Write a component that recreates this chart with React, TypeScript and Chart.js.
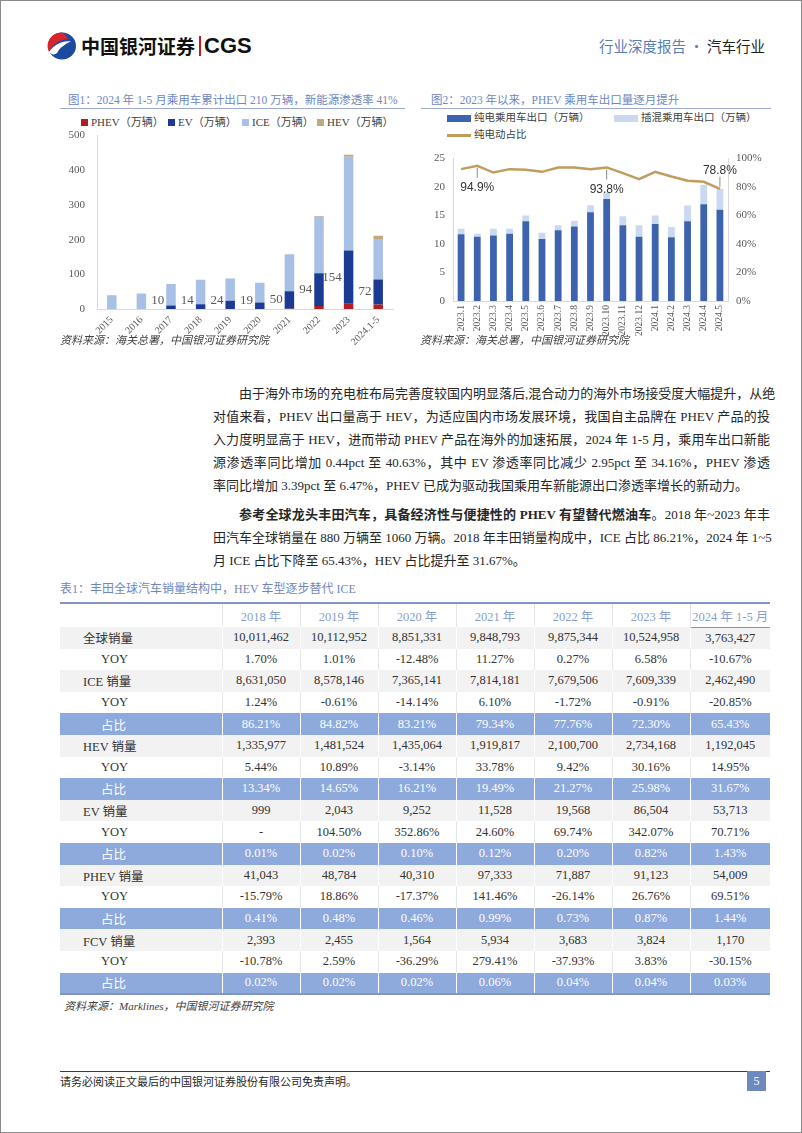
import React, { useEffect, useRef } from 'react';
import { Chart, registerables } from 'chart.js';
Chart.register(...registerables);

const SERIF = '"Liberation Serif", "Noto Sans CJK SC", serif';
const SANS = '"Liberation Sans", "Noto Sans CJK SC", sans-serif';
const CJK = '"Liberation Serif", "Noto Sans CJK SC", sans-serif';

// ---- Chart 1 data (万辆) ----
const years = ['2015', '2016', '2017', '2018', '2019', '2020', '2021', '2022', '2023', '2024.1-5'];
const phevValues = [0, 0, 0, 0, 0, 0, 1, 9, 15, 13];
const evValues = [0, 0, 10, 14, 24, 19, 50, 94, 154, 72];
const iceValues = [40, 45, 62, 70, 64, 57, 107, 163, 270, 117];
const hevValues = [0, 0, 0, 0, 0, 0, 0, 2, 6, 9];
const chart1Ticks = [0, 100, 200, 300, 400, 500];

// ---- Chart 2 data ----
const months = ['2023.1', '2023.2', '2023.3', '2023.4', '2023.5', '2023.6', '2023.7', '2023.8', '2023.9', '2023.10', '2023.11', '2023.12', '2024.1', '2024.2', '2024.3', '2024.4', '2024.5'];
const bevExport = [11.7, 11.3, 11.5, 11.8, 14.0, 10.9, 12.4, 13.1, 15.6, 17.9, 13.3, 11.3, 13.5, 11.2, 14.0, 17.0, 16.0];
const phevExport = [1.0, 0.5, 1.2, 0.9, 1.0, 1.1, 0.9, 1.0, 1.2, 1.1, 1.6, 2.0, 1.5, 1.8, 2.75, 3.4, 3.7];
const bevShare = [92.6, 94.9, 90.2, 92.6, 92.1, 90.7, 93.7, 93.7, 92.6, 93.8, 89.8, 85.6, 90.7, 87.4, 84.4, 83.7, 78.8];
const shareLabelIdx = [1, 9, 16];
const shareLabelBelow = [true, true, false];

// ---- Table data ----
const tableYears = ['2018 年', '2019 年', '2020 年', '2021 年', '2022 年', '2023 年', '2024 年 1-5 月'];
const globalSales = ['10,011,462', '10,112,952', '8,851,331', '9,848,793', '9,875,344', '10,524,958', '3,763,427'];
const globalYoy = ['1.70%', '1.01%', '-12.48%', '11.27%', '0.27%', '6.58%', '-10.67%'];
const iceSales = ['8,631,050', '8,578,146', '7,365,141', '7,814,181', '7,679,506', '7,609,339', '2,462,490'];
const iceYoy = ['1.24%', '-0.61%', '-14.14%', '6.10%', '-1.72%', '-0.91%', '-20.85%'];
const iceShare = ['86.21%', '84.82%', '83.21%', '79.34%', '77.76%', '72.30%', '65.43%'];
const hevSales = ['1,335,977', '1,481,524', '1,435,064', '1,919,817', '2,100,700', '2,734,168', '1,192,045'];
const hevYoy = ['5.44%', '10.89%', '-3.14%', '33.78%', '9.42%', '30.16%', '14.95%'];
const hevShare = ['13.34%', '14.65%', '16.21%', '19.49%', '21.27%', '25.98%', '31.67%'];
const evSales = ['999', '2,043', '9,252', '11,528', '19,568', '86,504', '53,713'];
const evYoy = ['-', '104.50%', '352.86%', '24.60%', '69.74%', '342.07%', '70.71%'];
const evShare = ['0.01%', '0.02%', '0.10%', '0.12%', '0.20%', '0.82%', '1.43%'];
const phevSales = ['41,043', '48,784', '40,310', '97,333', '71,887', '91,123', '54,009'];
const phevYoy = ['-15.79%', '18.86%', '-17.37%', '141.46%', '-26.14%', '26.76%', '69.51%'];
const phevShare = ['0.41%', '0.48%', '0.46%', '0.99%', '0.73%', '0.87%', '1.44%'];
const fcvSales = ['2,393', '2,455', '1,564', '5,934', '3,683', '3,824', '1,170'];
const fcvYoy = ['-10.78%', '2.59%', '-36.29%', '279.41%', '-37.93%', '3.83%', '-30.15%'];
const fcvShare = ['0.02%', '0.02%', '0.02%', '0.06%', '0.04%', '0.04%', '0.03%'];

const tableRows: { label: string; kind: 'sales' | 'yoy' | 'share'; values: string[] }[] = [
  { label: '全球销量', kind: 'sales', values: globalSales },
  { label: 'YOY', kind: 'yoy', values: globalYoy },
  { label: 'ICE 销量', kind: 'sales', values: iceSales },
  { label: 'YOY', kind: 'yoy', values: iceYoy },
  { label: '占比', kind: 'share', values: iceShare },
  { label: 'HEV 销量', kind: 'sales', values: hevSales },
  { label: 'YOY', kind: 'yoy', values: hevYoy },
  { label: '占比', kind: 'share', values: hevShare },
  { label: 'EV 销量', kind: 'sales', values: evSales },
  { label: 'YOY', kind: 'yoy', values: evYoy },
  { label: '占比', kind: 'share', values: evShare },
  { label: 'PHEV 销量', kind: 'sales', values: phevSales },
  { label: 'YOY', kind: 'yoy', values: phevYoy },
  { label: '占比', kind: 'share', values: phevShare },
  { label: 'FCV 销量', kind: 'sales', values: fcvSales },
  { label: 'YOY', kind: 'yoy', values: fcvYoy },
  { label: '占比', kind: 'share', values: fcvShare },
];

const COLORS1 = { phev: '#B01E23', ev: '#1B3A94', ice: '#A8BFE6', hev: '#C3A87E' };
const COLORS2 = { bev: '#3D63AF', phev: '#CAD8F0', line: '#C19C5C' };
const TITLE_COLOR = '#6F87BD';

function ExportChart() {
  const ref = useRef<HTMLCanvasElement>(null);
  useEffect(() => {
    const evLabelPlugin = {
      id: 'evLabels',
      afterDatasetsDraw(chart: any) {
        const { ctx } = chart;
        const meta = chart.getDatasetMeta(1);
        const ys = chart.scales.y;
        ctx.save();
        ctx.font = `13px ${SERIF}`;
        ctx.fillStyle = '#595959';
        ctx.textAlign = 'right';
        ctx.textBaseline = 'middle';
        meta.data.forEach((bar: any, i: number) => {
          const v = evValues[i];
          if (v < 5) return;
          const mid = ys.getPixelForValue(phevValues[i] + v / 2);
          const yy = Math.min(mid, ys.getPixelForValue(0) - 8);
          ctx.fillText(String(v), bar.x - bar.width / 2 - 2, yy);
        });
        ctx.restore();
      },
    };
    const common = { barPercentage: 0.32, categoryPercentage: 1 };
    const chart = new Chart(ref.current as HTMLCanvasElement, {
      type: 'bar',
      data: {
        labels: years,
        datasets: [
          { label: 'PHEV（万辆）', data: phevValues, backgroundColor: COLORS1.phev, ...common },
          { label: 'EV（万辆）', data: evValues, backgroundColor: COLORS1.ev, ...common },
          { label: 'ICE（万辆）', data: iceValues, backgroundColor: COLORS1.ice, ...common },
          { label: 'HEV（万辆）', data: hevValues, backgroundColor: COLORS1.hev, ...common },
        ],
      },
      options: {
        animation: false,
        responsive: false,
        maintainAspectRatio: false,
        layout: { padding: { top: 0, right: 17, left: 0, bottom: 0 } },
        plugins: { legend: { display: false }, tooltip: { enabled: false } },
        scales: {
          x: {
            stacked: true,
            grid: { display: false, drawTicks: false },
            border: { color: '#D9D9D9' },
            ticks: { font: { family: SERIF, size: 10 }, color: '#595959', minRotation: 45, maxRotation: 45, autoSkip: false, padding: 5 },
            afterFit: (s: any) => { s.height = 43; },
          },
          y: {
            stacked: true,
            min: chart1Ticks[0],
            max: chart1Ticks[chart1Ticks.length - 1],
            ticks: { stepSize: 100, font: { family: SERIF, size: 11 }, color: '#595959', padding: 12 },
            grid: { display: false, drawTicks: false },
            border: { color: '#D9D9D9' },
            afterFit: (s: any) => { s.width = 37; },
          },
        },
      } as any,
      plugins: [evLabelPlugin],
    });
    return () => chart.destroy();
  }, []);
  return <canvas ref={ref} width={350} height={235} style={{ position: 'absolute', left: 60, top: 117, width: 350, height: 235 }} />;
}

function MonthlyChart() {
  const ref = useRef<HTMLCanvasElement>(null);
  useEffect(() => {
    const shareLabelPlugin = {
      id: 'shareLabels',
      afterDatasetsDraw(chart: any) {
        const meta = chart.getDatasetMeta(2);
        const ctx = chart.ctx;
        ctx.save();
        ctx.font = `12px ${SANS}`;
        ctx.fillStyle = '#333333';
        ctx.strokeStyle = '#8C8C8C';
        ctx.lineWidth = 1;
        ctx.textAlign = 'center';
        ctx.textBaseline = 'middle';
        shareLabelIdx.forEach((i, k) => {
          const pt = meta.data[i];
          const below = shareLabelBelow[k];
          const dir = below ? 1 : -1;
          ctx.beginPath();
          ctx.moveTo(pt.x, pt.y + dir * 2);
          ctx.lineTo(pt.x, pt.y + dir * 12);
          ctx.stroke();
          ctx.fillText(bevShare[i].toFixed(1) + '%', pt.x, pt.y + dir * (below ? 22 : 18));
        });
        ctx.restore();
      },
    };
    const barOpts = { barPercentage: 0.42, categoryPercentage: 1, stack: 's' };
    const chart = new Chart(ref.current as HTMLCanvasElement, {
      type: 'bar',
      data: {
        labels: months,
        datasets: [
          { type: 'bar', label: '纯电乘用车出口（万辆）', data: bevExport, backgroundColor: COLORS2.bev, yAxisID: 'y', order: 2, ...barOpts },
          { type: 'bar', label: '插混乘用车出口（万辆）', data: phevExport, backgroundColor: COLORS2.phev, yAxisID: 'y', order: 2, ...barOpts },
          { type: 'line', label: '纯电动占比', data: bevShare, borderColor: COLORS2.line, borderWidth: 2.5, pointRadius: 0, tension: 0, yAxisID: 'y1', order: 0 },
        ],
      },
      options: {
        animation: false,
        responsive: false,
        maintainAspectRatio: false,
        layout: { padding: { top: 0, right: 0, left: 0, bottom: 0 } },
        plugins: { legend: { display: false }, tooltip: { enabled: false } },
        scales: {
          x: {
            stacked: true,
            grid: { display: false, drawTicks: false },
            border: { color: '#D9D9D9' },
            ticks: { font: { family: SERIF, size: 9.5 }, color: '#595959', minRotation: 90, maxRotation: 90, autoSkip: false, padding: 4 },
            afterFit: (s: any) => { s.height = 43; },
          },
          y: {
            stacked: true,
            min: 0,
            max: 25,
            ticks: { stepSize: 5, font: { family: SERIF, size: 11 }, color: '#595959', padding: 8 },
            grid: { display: false, drawTicks: false },
            border: { color: '#D9D9D9' },
            afterFit: (s: any) => { s.width = 33; },
          },
          y1: {
            position: 'right',
            min: 0,
            max: 100,
            ticks: { stepSize: 20, font: { family: SERIF, size: 11 }, color: '#595959', padding: 8, callback: (v: any) => v + '%' },
            grid: { display: false, drawTicks: false },
            border: { color: '#D9D9D9' },
            afterFit: (s: any) => { s.width = 52; },
          },
        },
      } as any,
      plugins: [shareLabelPlugin],
    });
    return () => chart.destroy();
  }, []);
  return <canvas ref={ref} width={360} height={200} style={{ position: 'absolute', left: 420, top: 144, width: 360, height: 200 }} />;
}

const abs = (left: number, cy: number, extra: React.CSSProperties = {}): React.CSSProperties => ({
  position: 'absolute', left, top: cy - 10, height: 20, lineHeight: '20px', whiteSpace: 'nowrap', ...extra,
});

function Logo() {
  return (
    <svg width={32} height={30} viewBox="0 0 32 30" style={{ position: 'absolute', left: 46, top: 31 }}>
      <ellipse cx={16} cy={15} rx={14} ry={13.5} fill="#1C4AA0" />
      <path d="M16 1.5 A14 13.5 0 0 0 3 21 C6 14 12 9 22 8 C20 5 19 2.5 16 1.5 Z" fill="#D9232D" />
      <path d="M3 21 C8 13 17 10 25 10 C20 13 14 16 11 22 C9 24 6 24 3 21 Z" fill="#FFFFFF" />
    </svg>
  );
}

const para1 = [
  '由于海外市场的充电桩布局完善度较国内明显落后,混合动力的海外市场接受度大幅提升，从绝',
  '对值来看，PHEV 出口量高于 HEV，为适应国内市场发展环境，我国自主品牌在 PHEV 产品的投',
  '入力度明显高于 HEV，进而带动 PHEV 产品在海外的加速拓展，2024 年 1-5 月，乘用车出口新能',
  '源渗透率同比增加 0.44pct 至 40.63%，其中 EV 渗透率同比减少 2.95pct 至 34.16%，PHEV 渗透',
  '率同比增加 3.39pct 至 6.47%，PHEV 已成为驱动我国乘用车新能源出口渗透率增长的新动力。',
];
const para2Bold = '参考全球龙头丰田汽车，具备经济性与便捷性的 PHEV 有望替代燃油车';
const para2 = [
  '。2018 年~2023 年丰',
  '田汽车全球销量在 880 万辆至 1060 万辆。2018 年丰田销量构成中，ICE 占比 86.21%，2024 年 1~5',
  '月 ICE 占比下降至 65.43%，HEV 占比提升至 31.67%。',
];

function TextLine({ y, indent, last, children }: { y: number; indent?: boolean; last?: boolean; children: React.ReactNode }) {
  return (
    <div
      style={{
        position: 'absolute', left: 213, width: 557, top: y - 11, height: 22, lineHeight: '22px',
        whiteSpace: 'nowrap', boxSizing: 'border-box', paddingLeft: indent ? 26 : 0,
        textAlign: last ? 'left' : 'justify', textAlignLast: last ? 'left' : 'justify',
        fontFamily: CJK, fontSize: 13, color: '#262626',
      } as React.CSSProperties}
    >
      {children}
    </div>
  );
}

function DataTable() {
  const colW = [162, 78, 78, 78, 78, 78, 78, 80];
  const headColor = '#8A9FCC';
  return (
    <table
      style={{
        position: 'absolute', left: 60, top: 602, width: 710, borderCollapse: 'collapse', tableLayout: 'fixed',
        fontFamily: CJK, fontSize: 12.5, borderTop: '2px solid #8194C2', borderBottom: '2px solid #8194C2',
      }}
    >
      <colgroup>{colW.map((w, i) => <col key={i} style={{ width: w }} />)}</colgroup>
      <thead>
        <tr style={{ height: 24 }}>
          <th style={{ borderRight: '1px solid #E3E3E3' }} />
          {tableYears.map((y, i) => (
            <th key={i} style={{
              fontWeight: 'normal', color: headColor, padding: 0, textAlign: 'center',
              borderRight: i < tableYears.length - 1 ? '1px solid #E3E3E3' : 'none',
              borderLeft: i === tableYears.length - 1 ? '1px solid #B9C4DE' : undefined,
              borderBottom: i === tableYears.length - 1 ? '1px solid #8194C2' : 'none',
            }}>{y}</th>
          ))}
        </tr>
      </thead>
      <tbody>
        {tableRows.map((r, ri) => {
          const bg = r.kind === 'sales' ? '#F2F2F2' : r.kind === 'share' ? '#8EA9DB' : '#FFFFFF';
          const color = r.kind === 'share' ? '#FFFFFF' : '#333333';
          const div = r.kind === 'yoy' ? '1px solid #E6E6E6' : '1px solid #FFFFFF';
          return (
            <tr key={ri} style={{ height: 21.6, background: bg, color }}>
              <td style={{ padding: 0, paddingLeft: r.kind === 'sales' ? 23 : 41, textAlign: 'left', borderRight: div }}>{r.label}</td>
              {r.values.map((v, ci) => (
                <td key={ci} style={{ padding: 0, textAlign: 'center', borderRight: ci < r.values.length - 1 ? div : 'none' }}>{v}</td>
              ))}
            </tr>
          );
        })}
      </tbody>
    </table>
  );
}

export default function App() {
  const legend1 = [
    { x: 81, label: 'PHEV（万辆）', color: COLORS1.phev },
    { x: 168, label: 'EV（万辆）', color: COLORS1.ev },
    { x: 242, label: 'ICE（万辆）', color: COLORS1.ice },
    { x: 317, label: 'HEV（万辆）', color: COLORS1.hev },
  ];
  return (
    <div style={{ position: 'relative', width: 802, height: 1133, background: '#FFFFFF', overflow: 'hidden', fontFamily: CJK }}>
      <style>{`body{margin:0;}`}</style>
      <div style={{ position: 'absolute', inset: 0, border: '1px solid #8A8A8A', pointerEvents: 'none' }} />

      {/* Header */}
      <Logo />
      <div style={abs(81, 46, { fontFamily: '"Noto Sans CJK SC", sans-serif', fontWeight: 700, fontSize: 19, color: '#111' })}>中国银河证券</div>
      <div style={{ position: 'absolute', left: 199, top: 36, width: 1.5, height: 20, background: '#C8161D' }} />
      <div style={abs(204, 46, { fontFamily: '"Liberation Sans", sans-serif', fontWeight: 700, fontSize: 22, color: '#111' })}>CGS</div>
      <div style={{ ...abs(0, 46), left: 'auto', right: 37, fontSize: 14.5, fontFamily: '"Noto Sans CJK SC", sans-serif' } as React.CSSProperties}>
        <span style={{ color: '#5A7DB6' }}>行业深度报告 · </span>
        <span style={{ color: '#222' }}>汽车行业</span>
      </div>

      {/* Chart 1 */}
      <div style={abs(68, 100, { fontSize: 11.5, color: TITLE_COLOR })}>图1：2024 年 1-5 月乘用车累计出口 210 万辆，新能源渗透率 41%</div>
      <div style={{ position: 'absolute', left: 60, top: 108, width: 345, height: 1, background: '#9AAAD0' }} />
      {legend1.map((l, i) => (
        <div key={i} style={abs(l.x, 122, { fontSize: 11, color: '#404040', fontFamily: SERIF, display: 'flex', alignItems: 'center' })}>
          <span style={{ display: 'inline-block', width: 7, height: 7, background: l.color, marginRight: 3 }} />
          {l.label}
        </div>
      ))}
      <ExportChart />
      <div style={abs(60, 340, { fontSize: 11, fontStyle: 'italic', color: '#404040' })}>资料来源：海关总署，中国银河证券研究院</div>

      {/* Chart 2 */}
      <div style={abs(431, 100, { fontSize: 11.5, color: TITLE_COLOR })}>图2：2023 年以来，PHEV 乘用车出口量逐月提升</div>
      <div style={{ position: 'absolute', left: 421, top: 108, width: 350, height: 1, background: '#9AAAD0' }} />
      <div style={{ position: 'absolute', left: 447, top: 115, width: 24, height: 7, background: COLORS2.bev }} />
      <div style={abs(474, 118, { fontSize: 10.5, color: '#404040' })}>纯电乘用车出口（万辆）</div>
      <div style={{ position: 'absolute', left: 614, top: 115, width: 24, height: 7, background: COLORS2.phev }} />
      <div style={abs(641, 118, { fontSize: 10.5, color: '#404040' })}>插混乘用车出口（万辆）</div>
      <div style={{ position: 'absolute', left: 447, top: 134, width: 24, height: 2.5, background: COLORS2.line }} />
      <div style={abs(474, 135, { fontSize: 10.5, color: '#404040' })}>纯电动占比</div>
      <MonthlyChart />
      <div style={abs(420, 340, { fontSize: 11, fontStyle: 'italic', color: '#404040' })}>资料来源：海关总署，中国银河证券研究院</div>

      {/* Paragraph 1 */}
      {para1.map((t, i) => (
        <TextLine key={i} y={394 + i * 23} indent={i === 0} last={i === para1.length - 1}>{t}</TextLine>
      ))}
      {/* Paragraph 2 */}
      <TextLine y={515} indent>
        <b>{para2Bold}</b>{para2[0]}
      </TextLine>
      <TextLine y={538}>{para2[1]}</TextLine>
      <TextLine y={561} last>{para2[2]}</TextLine>

      {/* Table */}
      <div style={abs(60, 589, { fontSize: 12, color: TITLE_COLOR })}>表1：丰田全球汽车销量结构中，HEV 车型逐步替代 ICE</div>
      <DataTable />
      <div style={abs(64, 1006, { fontSize: 11, fontStyle: 'italic', color: '#404040' })}>资料来源：Marklines，中国银河证券研究院</div>

      {/* Footer */}
      <div style={{ position: 'absolute', left: 60, top: 1071, width: 710, height: 1, background: '#3A3A3A' }} />
      <div style={abs(60, 1082, { fontSize: 11, color: '#262626' })}>请务必阅读正文最后的中国银河证券股份有限公司免责声明。</div>
      <div style={{ position: 'absolute', left: 747, top: 1071, width: 19, height: 20, background: '#6D89BF', color: '#fff', fontSize: 12, textAlign: 'center', lineHeight: '20px', fontFamily: SERIF }}>5</div>
    </div>
  );
}
